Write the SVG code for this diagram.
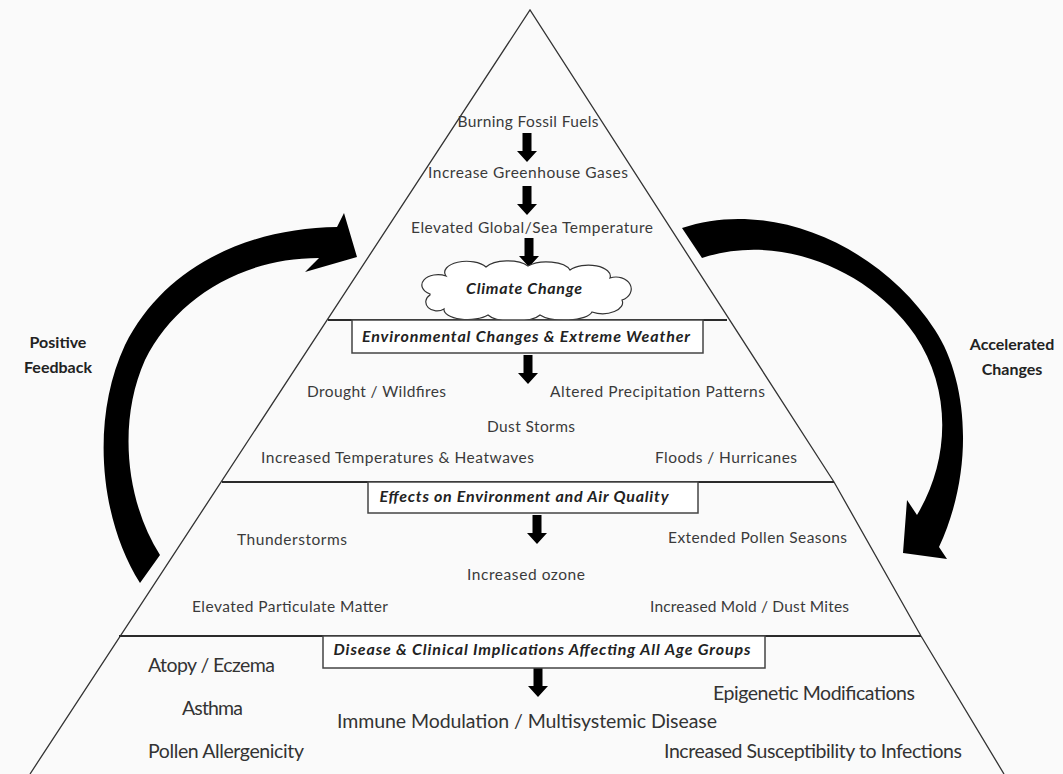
<svg xmlns="http://www.w3.org/2000/svg" width="1063" height="774" viewBox="0 0 1063 774">
<style>
.t{font-family:Lato,"Liberation Sans",sans-serif;fill:#3a3a3a;font-size:15.5px}
.b{font-size:19.5px;fill:#333}
.h{font-family:Lato,"Liberation Sans",sans-serif;font-weight:bold;font-style:italic;fill:#222;font-size:16px}
.lb{font-family:Lato,"Liberation Sans",sans-serif;font-weight:bold;fill:#222;font-size:16px}
.edge{stroke:#333;stroke-width:1.3;fill:none}
.sec{stroke:#2a2a2a;stroke-width:2;fill:none}
.box{fill:#fff;stroke:#444;stroke-width:1.5}
.blk{fill:#000}
</style>
<defs>
<path id="darr" d="M-4.5,0 H4.5 V18 H10 L0,29 L-10,18 H-4.5 Z"/>
</defs>
<rect width="1063" height="774" fill="#fafafa"/>
<g id="pyramid">
<polyline class="edge" points="30,774 530,10 834,482 921,636 1004,774"/>
<line class="sec" x1="328" y1="320" x2="727" y2="320"/>
<line class="sec" x1="222" y1="482" x2="834" y2="482"/>
<line class="sec" x1="119" y1="636" x2="921" y2="636"/>
</g>
<g id="connectors">
<use href="#darr" class="blk" x="527" y="133"/>
<use href="#darr" class="blk" x="527" y="186"/>
<use href="#darr" class="blk" x="529" y="238"/>
<use href="#darr" class="blk" x="528" y="355"/>
<use href="#darr" class="blk" x="537" y="515"/>
<use href="#darr" class="blk" x="538" y="668"/>
<path id="positive-arrow" class="blk" d="M140,583 C100,520 90,420 125,345 C165,265 250,228 337,227 L344,213 L357,257 L305,272 L319,258 C240,258 175,300 145,360 C118,420 125,500 160,555 Z"/>
<path id="accelerated-arrow" class="blk" d="M682,228 C770,198 880,245 935,330 C968,380 975,470 939,547 L947,559 L903,553 L907,500 L917,515 C950,460 952,390 915,335 C870,270 780,232 702,258 Z"/>
</g>
<g id="n-top">
<text class="t" x="528" y="127" text-anchor="middle" textLength="141">Burning Fossil Fuels</text>
<text class="t" x="528" y="178" text-anchor="middle" textLength="200">Increase Greenhouse Gases</text>
<text class="t" x="532" y="233" text-anchor="middle" textLength="242">Elevated Global/Sea Temperature</text>
</g>
<g id="n-cloud">
<path d="M430,294 a14,9 0 0 1 16,-18 a22,11 0 0 1 40,-9 a24,11 0 0 1 42,-1 a24,11 0 0 1 42,4 a22,11 0 0 1 40,8 a14,11 0 0 1 12,22 a20,11 0 0 1 -30,12 a28,10 0 0 1 -52,3 a28,10 0 0 1 -52,0 a24,10 0 0 1 -44,-6 a10,8 0 0 1 -14,-14 Z" fill="#fff" stroke="#333" stroke-width="1.2"/>
<text class="h" x="524" y="294" text-anchor="middle" textLength="116">Climate Change</text>
</g>
<g id="n-env">
<rect class="box" x="352" y="320" width="351" height="33"/>
<text class="h" x="526" y="342" text-anchor="middle" textLength="328">Environmental Changes &amp; Extreme Weather</text>
<text class="t" x="307" y="397" textLength="139">Drought / Wildfires</text>
<text class="t" x="550" y="397" textLength="215">Altered Precipitation Patterns</text>
<text class="t" x="487" y="432" textLength="88">Dust Storms</text>
<text class="t" x="261" y="463" textLength="273">Increased Temperatures &amp; Heatwaves</text>
<text class="t" x="655" y="463" textLength="142">Floods / Hurricanes</text>
</g>
<g id="n-air">
<rect class="box" x="368" y="482" width="330" height="31"/>
<text class="h" x="524" y="502" text-anchor="middle" textLength="289">Effects on Environment and Air Quality</text>
<text class="t" x="237" y="545" textLength="110">Thunderstorms</text>
<text class="t" x="668" y="543" textLength="179">Extended Pollen Seasons</text>
<text class="t" x="467" y="580" textLength="118">Increased ozone</text>
<text class="t" x="192" y="612" textLength="196">Elevated Particulate Matter</text>
<text class="t" x="650" y="612" textLength="199">Increased Mold / Dust Mites</text>
</g>
<g id="n-disease">
<rect class="box" x="323" y="636" width="442" height="32"/>
<text class="h" x="542" y="655" text-anchor="middle" textLength="417">Disease &amp; Clinical Implications Affecting All Age Groups</text>
<text class="t b" x="148" y="672" textLength="127">Atopy / Eczema</text>
<text class="t b" x="182" y="715" textLength="61">Asthma</text>
<text class="t b" x="148" y="758" textLength="156">Pollen Allergenicity</text>
<text class="t b" x="337" y="728" textLength="380">Immune Modulation / Multisystemic Disease</text>
<text class="t b" x="713" y="700" textLength="202">Epigenetic Modifications</text>
<text class="t b" x="664" y="758" textLength="298">Increased Susceptibility to Infections</text>
</g>
<g id="n-positive">
<text class="lb" x="58" y="348" text-anchor="middle">Positive</text>
<text class="lb" x="58" y="373" text-anchor="middle">Feedback</text>
</g>
<g id="n-accelerated">
<text class="lb" x="1012" y="350" text-anchor="middle">Accelerated</text>
<text class="lb" x="1012" y="375" text-anchor="middle">Changes</text>
</g>
</svg>
